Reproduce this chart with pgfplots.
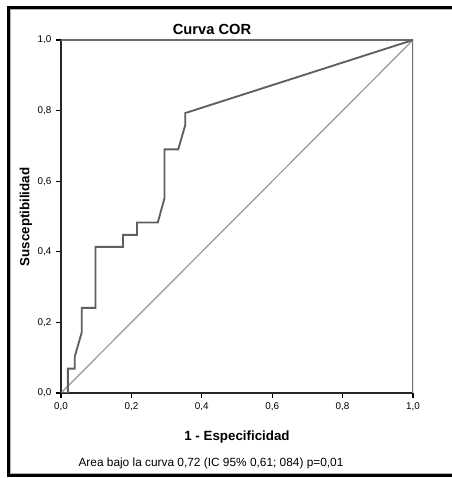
\documentclass[border=0pt]{standalone}
\usepackage{fontspec}
\setmainfont{Liberation Sans}
\usepackage{pgfplots}
\pgfplotsset{compat=1.18}
\definecolor{curvegray}{RGB}{95,95,95}
\definecolor{diaggray}{RGB}{150,150,150}
\definecolor{framegray}{RGB}{110,110,110}
\begin{document}
\begin{tikzpicture}[x=0.75pt,y=0.75pt]
\useasboundingbox (0,0) rectangle (452,478);
\coordinate (axorigin) at (61,85);
% outer frame (right side falls outside the picture)
\draw[black,line width=2.4pt] (470,470.5) -- (8.5,470.5) -- (8.5,2.5) -- (470,2.5);
\draw[gray!60,line width=0.6pt] (470,468.6) -- (10.4,468.6) -- (10.4,4.4) -- (470,4.4);
\begin{axis}[
  at={(axorigin)}, anchor=south west,
  scale only axis, width=264pt, height=264.75pt,
  xmin=0, xmax=1, ymin=0, ymax=1,
  axis x line*=bottom, axis y line*=left,
  axis line style={black!85,line width=1.3pt,-},
  tick align=outside, major tick length=3.75pt,
  tick style={black,line width=0.8pt},
  xtick={0,0.2,0.4,0.6,0.8,1}, ytick={0,0.2,0.4,0.6,0.8,1},
  tick label style={font=\fontsize{7.4}{8}\selectfont},
  /pgf/number format/.cd, use comma, fixed, fixed zerofill, precision=1, assume math mode=true,
]
\draw[framegray,line width=0.9pt] (axis cs:0,1) -- (axis cs:1,1) -- (axis cs:1,0);
\addplot[diaggray,line width=0.9pt] coordinates {(0,0) (1,1)};
\addplot[curvegray,line width=1.4pt,line join=miter] coordinates {
(0,0) (0.0196,0) (0.0196,0.069) (0.039,0.069) (0.039,0.103) (0.059,0.172)
(0.059,0.241) (0.098,0.241) (0.098,0.414) (0.176,0.414) (0.176,0.448)
(0.216,0.448) (0.216,0.483) (0.275,0.483) (0.294,0.552) (0.294,0.690)
(0.333,0.690) (0.353,0.759) (0.353,0.793) (1,1)};
\end{axis}
\node[font=\fontsize{11}{13}\selectfont\bfseries] at (212,449) {Curva COR};
\node[font=\fontsize{10}{12}\selectfont\bfseries] at (237,41) {1 - Especificidad};
\node[font=\fontsize{10}{12}\selectfont\bfseries,rotate=90] at (26,261) {Susceptibilidad};
\node[font=\fontsize{8.9}{10}\selectfont] at (211,15) {Area bajo la curva 0,72 (IC 95\% 0,61; 084) p=0,01};
\end{tikzpicture}
\end{document}
